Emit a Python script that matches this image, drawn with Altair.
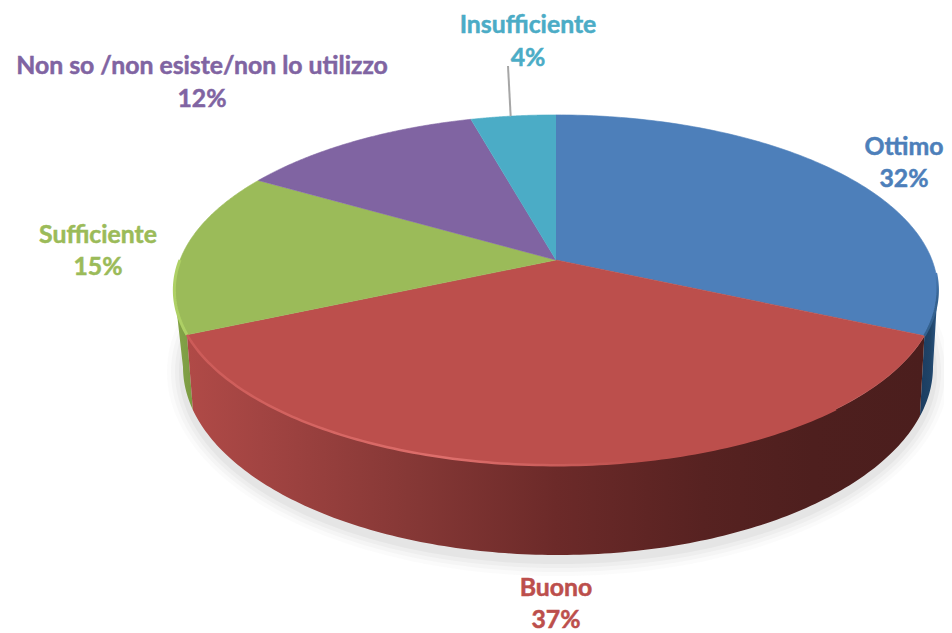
import numpy as np
import pandas as pd
import altair as alt

CATEGORIES = ["Ottimo", "Buono", "Sufficiente", "Non so /non esiste/non lo utilizzo", "Insufficiente"]
SHARES = [31.8, 36.5, 15.2, 12.25, 4.25]
PERCENT_LABELS = ["32%", "37%", "15%", "12%", "4%"]
COLORS = ["#4d7fba", "#bc4f4c", "#9bbb59", "#8064a2", "#4bacc6"]
LABEL_X = [904, 556, 98, 202, 528]
LABEL_Y1 = [148, 589, 236, 67, 26]
LABEL_Y2 = [180, 621, 268, 100, 59]

# pie geometry (perspective disc)
CX, CY, RX, RY, K = 556.0, 260.0, 376.0, 170.0, 0.1716
BX, BY, BRX, BRY = 558.0, 367.0, 375.0, 188.0

VIEW_W, VIEW_H = 936, 625


def rim(f):
    t = 2 * np.pi * np.asarray(f)
    u, v = np.sin(t), -np.cos(t)
    w = 1 - K * v
    return CX + RX * u / w, CY + RY * v / w


def base(deg):
    a = np.radians(np.asarray(deg))
    return BX + BRX * np.cos(a), BY + BRY * np.sin(a)


def poly(xs, ys):
    return pd.DataFrame({"x": xs, "y": ys, "i": np.arange(len(xs))})


X = alt.X("x:Q", scale=alt.Scale(domain=[8, 8 + VIEW_W]), axis=None)
Y = alt.Y("y:Q", scale=alt.Scale(domain=[8 + VIEW_H, 8]), axis=None)


def shape(df, fill, stroke=None, sw=0.6, opacity=1.0):
    return alt.Chart(df).mark_line(
        filled=True, fill=fill, stroke=stroke if stroke else (fill if isinstance(fill, str) else "transparent"),
        strokeWidth=sw, opacity=opacity, interpolate="linear"
    ).encode(x=X, y=Y, order=alt.Order("i:Q"))


def hgrad(stops):
    return alt.Gradient(gradient="linear", x1=0, x2=1, y1=0, y2=0,
                        stops=[alt.GradientStop(offset=o, color=c) for o, c in stops])


edges = np.concatenate([[0], np.cumsum(SHARES)]) / 100.0
layers = []

# soft shadow
deg = np.linspace(0, 360, 181)
for grow, op in [(16, 0.035), (12, 0.05), (8, 0.06), (4, 0.08)]:
    a = np.radians(deg)
    layers.append(shape(poly(BX + (BRX + grow) * np.cos(a), BY + 5 + (BRY + grow) * np.sin(a)),
                        "#808080", "transparent", 0, op))

# side walls
F_RIGHT, F_LEFT = 0.2775, 0.7225
B_RIGHT, B_LEFT = 15.2, 166.8

fb = np.linspace(F_RIGHT, edges[1], 30)
rx_, ry_ = rim(fb)
bx_, by_ = base(np.linspace(B_RIGHT, 0, 20))
layers.append(shape(poly(np.r_[rx_, bx_], np.r_[ry_, by_]),
                    hgrad([(0, "#1c3c60"), (0.6, "#1f4468"), (1, "#2c5684")]), "transparent", 0))

fg = np.linspace(edges[2], F_LEFT, 30)
rx_, ry_ = rim(fg)
bx_, by_ = base(np.linspace(180, B_LEFT, 20))
layers.append(shape(poly(np.r_[rx_, bx_], np.r_[ry_, by_]),
                    hgrad([(0, "#86a64a"), (1, "#7b9a42")]), "transparent", 0))

fr = np.linspace(edges[1], edges[2], 160)
rx_, ry_ = rim(fr)
bx_, by_ = base(np.linspace(B_LEFT, B_RIGHT, 160))
layers.append(shape(poly(np.r_[rx_, bx_], np.r_[ry_, by_]),
                    hgrad([(0, "#b04a47"), (0.1, "#a24442"), (0.3, "#863836"),
                           (0.5, "#6c2a29"), (0.7, "#572221"), (0.85, "#4e1f1e"), (1, "#4b1e1d")]),
                    "transparent", 0))

# top slices
for n, c in enumerate(COLORS):
    f = np.linspace(edges[n], edges[n + 1], 120)
    ax, ay = rim(f)
    layers.append(shape(poly(np.r_[CX, ax], np.r_[CY, ay]), c))

# rim highlights
rx_, ry_ = rim(np.linspace(edges[2], edges[1] + 0.07, 120))
layers.append(alt.Chart(poly(rx_, ry_)).mark_line(
    strokeWidth=2.5,
    stroke=hgrad([(0, "#cc5b58"), (0.4, "#de6f6c"), (0.7, "#bc4f4c"), (1, "#bc4f4c")])
).encode(x=X, y=Y, order=alt.Order("i:Q")))
rx_, ry_ = rim(np.linspace(edges[2], 0.75, 30))
layers.append(alt.Chart(poly(rx_, ry_)).mark_line(strokeWidth=3, stroke="#aed065").encode(
    x=X, y=Y, order=alt.Order("i:Q")))
rx_, ry_ = rim(np.linspace(0.262, edges[1], 30))
layers.append(alt.Chart(poly(rx_, ry_)).mark_line(
    strokeWidth=2.5,
    stroke=alt.Gradient(gradient="linear", x1=0, x2=0, y1=0, y2=1, stops=[
        alt.GradientStop(offset=0, color="#4d7fba"), alt.GradientStop(offset=0.4, color="#34618f"),
        alt.GradientStop(offset=1, color="#34618f")])
).encode(x=X, y=Y, order=alt.Order("i:Q")))

# leader line for the smallest slice
lx, ly = rim(edges[4] + (edges[5] - edges[4]) * 0.47)
leader = pd.DataFrame({"x": [lx, LABEL_X[4] - 20], "y": [ly, LABEL_Y2[4] + 7], "i": [0, 1]})
layers.append(alt.Chart(leader).mark_line(stroke="#a6a6a6", strokeWidth=2).encode(
    x=X, y=Y, order=alt.Order("i:Q")))

# labels
labels = pd.DataFrame({
    "x": LABEL_X * 2, "y": LABEL_Y1 + LABEL_Y2,
    "t": CATEGORIES + PERCENT_LABELS, "c": CATEGORIES * 2,
})
scale_c = alt.Scale(domain=CATEGORIES, range=COLORS)
layers.append(alt.Chart(labels).mark_text(
    font="Lato", fontWeight="bold", fontSize=24.8, align="center", baseline="middle", strokeWidth=0.5
).encode(
    x=X, y=Y, text="t:N",
    color=alt.Color("c:N", scale=scale_c, legend=None),
    stroke=alt.Color("c:N", scale=scale_c, legend=None),
))

chart = alt.layer(*layers).properties(
    width=VIEW_W, height=VIEW_H, padding=0,
    autosize=alt.AutoSizeParams(type="none"),
).configure_view(stroke=None)
chart.save("out.html", embed_options={"renderer": "svg", "actions": False})
